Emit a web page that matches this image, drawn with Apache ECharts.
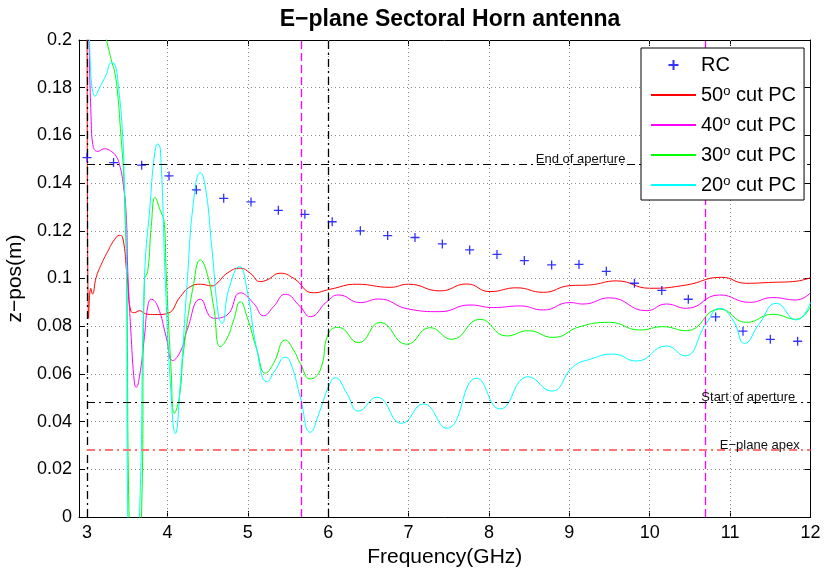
<!DOCTYPE html>
<html>
<head>
<meta charset="utf-8">
<script src="https://cdn.jsdelivr.net/npm/echarts@6/dist/echarts.min.js"></script>
<style>html,body{margin:0;padding:0;background:#fff}#main{width:826px;height:570px}</style>
</head>
<body>
<div id="main"></div>
<script>
var FONT = '"Liberation Sans", Arial, Helvetica, sans-serif';

var freqTicks = [3, 4, 5, 6, 7, 8, 9, 10, 11, 12];
var gridFreq = [4, 5, 6, 7, 8, 9, 10, 11];

// RC points
var rcFreq = [3.00, 3.33, 3.68, 4.02, 4.36, 4.70, 5.04, 5.38, 5.71, 6.05, 6.40, 6.74, 7.08, 7.42,
              7.76, 8.10, 8.44, 8.78, 9.12, 9.46, 9.81, 10.15, 10.48, 10.82, 11.16, 11.50, 11.84];
var rcZ = [0.1507, 0.1486, 0.1475, 0.1430, 0.1372, 0.1336, 0.1321, 0.1286, 0.1269, 0.1238, 0.1200, 0.1180, 0.1172, 0.1145,
           0.1120, 0.1101, 0.1075, 0.1057, 0.1059, 0.1030, 0.0980, 0.0950, 0.0913, 0.0839, 0.0779, 0.0745, 0.0737];

// PC curves, [freq, z]
var pc50 = [[3.0, 0.25], [3.019, 0.0833], [3.047, 0.0959], [3.068, 0.0935], [3.114, 0.1005], [3.176, 0.1058],
  [3.258, 0.1114], [3.342, 0.1163], [3.404, 0.1181], [3.445, 0.117], [3.497, 0.1015], [3.549, 0.0861],
  [3.59, 0.0857], [3.652, 0.0865], [3.714, 0.0854], [3.755, 0.085], [3.876, 0.0849], [4.004, 0.0854],
  [4.161, 0.0924], [4.286, 0.0966], [4.41, 0.0976], [4.555, 0.0969], [4.617, 0.098], [4.742, 0.1022],
  [4.907, 0.1043], [5.031, 0.1022], [5.155, 0.0987], [5.239, 0.0994], [5.404, 0.1022], [5.569, 0.1001],
  [5.817, 0.094], [6.025, 0.0955], [6.357, 0.0976], [6.77, 0.0963], [6.998, 0.0976], [7.391, 0.0948],
  [7.723, 0.0977], [8.012, 0.0945], [8.344, 0.0961], [8.675, 0.0942], [9.006, 0.097], [9.255, 0.0973],
  [9.586, 0.099], [10.004, 0.0959], [10.456, 0.0973], [10.891, 0.1005], [11.201, 0.098], [11.532, 0.0984],
  [11.78, 0.0987], [12.0, 0.1003]];

var pc40 = [[3.0, 0.26], [3.025, 0.2], [3.052, 0.1659], [3.072, 0.1561], [3.134, 0.1533], [3.217, 0.1544],
  [3.301, 0.1533], [3.363, 0.1512], [3.404, 0.1477], [3.445, 0.1408], [3.487, 0.1268], [3.507, 0.103],
  [3.549, 0.0756], [3.59, 0.0561], [3.611, 0.0544], [3.652, 0.0588], [3.714, 0.0756], [3.755, 0.0882],
  [3.798, 0.0913], [3.88, 0.0882], [3.984, 0.0756], [4.066, 0.0656], [4.17, 0.07], [4.245, 0.0784],
  [4.41, 0.0913], [4.575, 0.0833], [4.742, 0.0847], [4.907, 0.094], [5.072, 0.0896], [5.196, 0.0844],
  [5.32, 0.0882], [5.466, 0.0934], [5.652, 0.0882], [5.776, 0.084], [5.984, 0.0903], [6.128, 0.0931],
  [6.398, 0.0899], [6.625, 0.0914], [6.998, 0.0872], [7.391, 0.0861], [7.764, 0.0889], [8.053, 0.0878],
  [8.385, 0.0885], [8.675, 0.0868], [9.006, 0.0899], [9.171, 0.0893], [9.503, 0.0919], [9.959, 0.0865],
  [10.207, 0.0893], [10.456, 0.0875], [10.87, 0.0931], [11.242, 0.09], [11.532, 0.092], [11.822, 0.091],
  [12.0, 0.094]];

var pc30 = [[3.0, 0.235], [3.242, 0.2], [3.313, 0.1902], [3.342, 0.1869], [3.379, 0.1782], [3.416, 0.1623],
  [3.453, 0.145], [3.475, 0.124], [3.494, 0.103], [3.523, 0.0], [3.6, -0.035], [3.677, 0.0], [3.714, 0.0994],
  [3.755, 0.103], [3.8, 0.1224], [3.847, 0.134], [3.9, 0.1296], [3.963, 0.1226], [3.984, 0.103],
  [4.046, 0.0616], [4.087, 0.0435], [4.149, 0.0504], [4.202, 0.07], [4.327, 0.098], [4.41, 0.1078],
  [4.493, 0.1022], [4.575, 0.0882], [4.658, 0.0714], [4.742, 0.0749], [4.824, 0.0826], [4.907, 0.0903],
  [4.99, 0.084], [5.114, 0.07], [5.217, 0.0603], [5.32, 0.0644], [5.466, 0.0742], [5.569, 0.07],
  [5.652, 0.0644], [5.776, 0.0579], [5.901, 0.0616], [6.004, 0.077], [6.128, 0.0795], [6.376, 0.0731],
  [6.646, 0.0816], [6.978, 0.0724], [7.267, 0.0794], [7.537, 0.0745], [7.888, 0.0829], [8.22, 0.0759],
  [8.488, 0.0781], [8.799, 0.0753], [9.13, 0.0798], [9.503, 0.0816], [9.876, 0.0784], [10.165, 0.0798],
  [10.456, 0.0781], [10.87, 0.0872], [11.201, 0.0816], [11.532, 0.085], [11.822, 0.0829], [12.0, 0.0882]];

var pc20 = [[3.0, 0.27], [3.031, 0.2], [3.102, 0.1764], [3.155, 0.1799], [3.239, 0.1855], [3.301, 0.1904],
  [3.342, 0.1899], [3.383, 0.1827], [3.445, 0.1589], [3.466, 0.1379], [3.487, 0.117], [3.507, 0.0],
  [3.578, -0.035], [3.652, 0.0], [3.714, 0.0994], [3.789, 0.1329], [3.839, 0.1518], [3.88, 0.1564],
  [3.913, 0.1539], [3.975, 0.098], [4.037, 0.056], [4.099, 0.035], [4.161, 0.056], [4.245, 0.098],
  [4.327, 0.1329], [4.41, 0.1444], [4.472, 0.1385], [4.555, 0.1119], [4.637, 0.084], [4.68, 0.0812],
  [4.761, 0.0952], [4.898, 0.105], [4.99, 0.0952], [5.114, 0.07], [5.239, 0.0567], [5.342, 0.0616],
  [5.466, 0.067], [5.528, 0.0651], [5.652, 0.0504], [5.776, 0.0355], [5.901, 0.0449], [6.004, 0.0546],
  [6.087, 0.0584], [6.232, 0.0519], [6.376, 0.0444], [6.605, 0.0502], [6.916, 0.0393], [7.184, 0.0474],
  [7.475, 0.0372], [7.847, 0.0582], [8.137, 0.0453], [8.488, 0.0588], [8.779, 0.0528], [9.047, 0.063],
  [9.255, 0.0661], [9.544, 0.0683], [9.835, 0.0654], [10.207, 0.0717], [10.435, 0.0676], [10.704, 0.0812],
  [10.87, 0.0875], [11.035, 0.0826], [11.18, 0.0728], [11.366, 0.0812], [11.574, 0.0896], [11.822, 0.0826],
  [12.0, 0.0899]];

// reference lines and their labels
var blackMarks = [3, 6];
var magentaMarks = [5.67, 10.69];
var endAperture = 0.148, startAperture = 0.0481, planeApex = 0.0281;
var noteNames = ['End of aperture', 'Start of aperture', 'E\u2212plane apex'];
var noteFreq = [8.52, 10.58, 10.81];
var noteZ = [endAperture, startAperture, planeApex];

var chart = echarts.init(document.getElementById('main'), null, {renderer: 'canvas'});

var dashDot = [8, 4, 2, 4];

function curve(name, color, pts) {
    return {
        name: name, type: 'line', data: pts,
        symbol: 'none', showSymbol: false,
        smooth: 0.5,
        lineStyle: {color: color, width: 1},
        itemStyle: {color: color},
        clip: true, animation: false, z: 3
    };
}

// dotted vertical grid (x ticks start at 3, axis starts at 2.9)
var gridLines = gridFreq.map(function (f) { return {xAxis: f}; });

var markLines = [];
blackMarks.forEach(function (f) {
    markLines.push({xAxis: f, lineStyle: {color: '#000000', width: 1.3, type: dashDot}});
});
magentaMarks.forEach(function (f) {
    markLines.push({xAxis: f, lineStyle: {color: '#ff00ff', width: 1.3, type: [8, 4], opacity: 1}});
});
markLines.push([{coord: [3, endAperture], lineStyle: {color: '#000', width: 1, type: dashDot}}, {coord: [12, endAperture]}]);
markLines.push([{coord: [3, startAperture], lineStyle: {color: '#000', width: 1, type: dashDot}}, {coord: [12, startAperture]}]);
markLines.push([{coord: [3, planeApex], lineStyle: {color: '#ff7575', width: 2, type: dashDot}}, {coord: [12, planeApex]}]);

var notes = noteNames.map(function (n, i) {
    return {name: n, coord: [noteFreq[i], noteZ[i]]};
});

var axisBase = {
    type: 'value',
    axisLine: {show: true, onZero: false, lineStyle: {color: '#000', width: 1}},
    axisTick: {show: true, inside: true, length: 6, lineStyle: {color: '#000'}},
    splitLine: {show: false}
};

var lineLegend = {itemStyle: {opacity: 0}};

var option = {
    animation: false,
    backgroundColor: '#fff',
    title: {
        text: 'E\u2212plane Sectoral Horn antenna',
        left: 445, top: 3, textAlign: 'center',
        textStyle: {fontFamily: FONT, fontSize: 23, fontWeight: 'bold', color: '#000'}
    },
    grid: {left: 79, right: 15.5, top: 40, bottom: 53, containLabel: false, outerBoundsMode: 'none'},
    legend: {
        orient: 'vertical',
        left: 641, top: 48,
        padding: [7, 8, 5, 9],
        itemWidth: 45, itemHeight: 10, itemGap: 10,
        backgroundColor: '#fff',
        borderColor: '#000', borderWidth: 1,
        z: 10,
        data: [
            {name: 'RC'},
            echarts.util.merge({name: '50\u00b0 cut PC'}, lineLegend),
            echarts.util.merge({name: '40\u00b0 cut PC'}, lineLegend),
            echarts.util.merge({name: '30\u00b0 cut PC'}, lineLegend),
            echarts.util.merge({name: '20\u00b0 cut PC'}, lineLegend)
        ],
        formatter: function (name) {
            if (name === 'RC') return '{a|RC}';
            return '{a|' + name.slice(0, 2) + '}{sup|o}{a| cut PC}';
        },
        textStyle: {
            color: '#000',
            rich: {
                a: {fontFamily: FONT, fontSize: 20, color: '#000', lineHeight: 20},
                sup: {fontFamily: FONT, fontSize: 13, color: '#000', verticalAlign: 'top', lineHeight: 12}
            }
        }
    },
    xAxis: [
        echarts.util.merge({
            min: 2.9, max: 12, position: 'bottom',
            axisTick: {customValues: freqTicks},
            axisLabel: {customValues: freqTicks, color: '#000', fontSize: 18, fontFamily: FONT, margin: 7},
            name: 'Frequency(GHz)', nameLocation: 'middle', nameGap: 27,
            nameTextStyle: {color: '#000', fontSize: 21, fontFamily: FONT}
        }, axisBase, false),
        echarts.util.merge({
            min: 2.9, max: 12, position: 'top',
            axisTick: {customValues: freqTicks},
            axisLabel: {show: false}
        }, axisBase, false)
    ],
    yAxis: [
        echarts.util.merge({
            min: 0, max: 0.2, interval: 0.02, position: 'left',
            axisLabel: {color: '#000', fontSize: 18, fontFamily: FONT, margin: 7},
            splitLine: {show: true, lineStyle: {color: '#8a8a8a', width: 1, type: [1, 3]}},
            name: 'z\u2212pos(m)', nameLocation: 'middle', nameGap: 47,
            nameTextStyle: {color: '#000', fontSize: 21, fontFamily: FONT}
        }, axisBase, false),
        echarts.util.merge({
            min: 0, max: 0.2, interval: 0.02, position: 'right',
            axisLabel: {show: false}
        }, axisBase, false)
    ],
    series: [
        {
            name: 'grid', type: 'line', data: [], z: 1, silent: true,
            markLine: {
                silent: true, symbol: ['none', 'none'], animation: false,
                label: {show: false},
                lineStyle: {color: '#8a8a8a', width: 1, type: [1, 3]},
                data: gridLines
            }
        },
        {
            name: 'RC', type: 'scatter',
            data: rcFreq.map(function (f, i) { return [f, rcZ[i]]; }),
            symbol: 'path://M5,0L5,10M0,5L10,5',
            symbolSize: 9,
            itemStyle: {color: 'transparent', borderColor: '#0000ff', borderWidth: 1.3},
            z: 5,
            markLine: {
                silent: true, symbol: ['none', 'none'], animation: false,
                label: {show: false},
                data: markLines
            },
            markPoint: {
                silent: true, symbol: 'circle', symbolSize: 0, animation: false,
                label: {
                    show: true, position: 'right', distance: 5, offset: [0, -5],
                    formatter: '{b}', color: '#111', fontSize: 13, fontFamily: FONT
                },
                data: notes
            }
        },
        curve('50\u00b0 cut PC', '#ff0000', pc50),
        curve('40\u00b0 cut PC', '#ff00ff', pc40),
        curve('30\u00b0 cut PC', '#00ff00', pc30),
        curve('20\u00b0 cut PC', '#00ffff', pc20)
    ]
};

chart.setOption(option);
</script>
</body>
</html>
